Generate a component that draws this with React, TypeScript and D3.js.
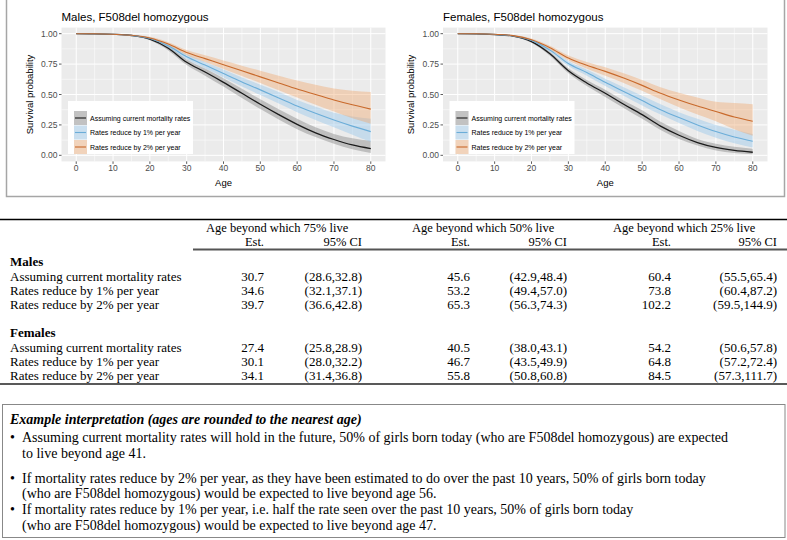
import React from "react";
import * as d3 from "d3";

// ---------- DATA ----------
const ages = [0, 5, 10, 15, 20, 25, 30, 35, 40, 45, 50, 55, 60, 65, 70, 75, 80];

const maleCurrentEst = [1, 0.999, 0.995, 0.985, 0.955, 0.88, 0.765, 0.685, 0.6, 0.51, 0.42, 0.335, 0.255, 0.185, 0.13, 0.085, 0.055];
const maleCurrentLo = [1, 0.998, 0.993, 0.98, 0.945, 0.862, 0.742, 0.655, 0.565, 0.472, 0.38, 0.295, 0.215, 0.15, 0.095, 0.05, 0.02];
const maleCurrentHi = [1, 1, 0.997, 0.99, 0.965, 0.897, 0.788, 0.713, 0.633, 0.547, 0.46, 0.378, 0.3, 0.23, 0.175, 0.14, 0.12];

const male1Est = [1, 0.999, 0.995, 0.986, 0.96, 0.9, 0.81, 0.742, 0.672, 0.603, 0.538, 0.472, 0.405, 0.345, 0.29, 0.24, 0.195];
const male1Lo = [1, 0.998, 0.993, 0.982, 0.95, 0.885, 0.79, 0.715, 0.64, 0.565, 0.495, 0.425, 0.355, 0.29, 0.23, 0.17, 0.11];
const male1Hi = [1, 1, 0.997, 0.99, 0.97, 0.915, 0.83, 0.768, 0.705, 0.64, 0.58, 0.52, 0.455, 0.4, 0.35, 0.32, 0.3];

const male2Est = [1, 0.999, 0.995, 0.987, 0.965, 0.915, 0.845, 0.795, 0.745, 0.695, 0.645, 0.595, 0.545, 0.5, 0.455, 0.415, 0.38];
const male2Lo = [1, 0.998, 0.993, 0.983, 0.955, 0.9, 0.825, 0.767, 0.71, 0.652, 0.595, 0.535, 0.475, 0.415, 0.36, 0.305, 0.26];
const male2Hi = [1, 1, 0.997, 0.991, 0.975, 0.93, 0.865, 0.822, 0.78, 0.737, 0.695, 0.655, 0.615, 0.58, 0.55, 0.53, 0.52];

const femaleCurrentEst = [1, 0.999, 0.993, 0.98, 0.935, 0.835, 0.695, 0.595, 0.51, 0.42, 0.335, 0.24, 0.165, 0.105, 0.065, 0.04, 0.025];
const femaleCurrentLo = [1, 0.998, 0.99, 0.975, 0.925, 0.818, 0.675, 0.57, 0.48, 0.39, 0.3, 0.208, 0.135, 0.08, 0.04, 0.02, 0.008];
const femaleCurrentHi = [1, 1, 0.996, 0.985, 0.945, 0.852, 0.715, 0.62, 0.54, 0.45, 0.37, 0.275, 0.2, 0.135, 0.095, 0.07, 0.055];

const female1Est = [1, 0.999, 0.994, 0.982, 0.945, 0.865, 0.755, 0.68, 0.6, 0.525, 0.45, 0.375, 0.31, 0.25, 0.195, 0.15, 0.115];
const female1Lo = [1, 0.998, 0.991, 0.977, 0.935, 0.85, 0.735, 0.655, 0.57, 0.49, 0.41, 0.335, 0.265, 0.2, 0.145, 0.1, 0.065];
const female1Hi = [1, 1, 0.997, 0.987, 0.955, 0.88, 0.775, 0.705, 0.63, 0.56, 0.49, 0.42, 0.355, 0.3, 0.25, 0.21, 0.175];

const female2Est = [1, 0.999, 0.995, 0.984, 0.95, 0.885, 0.8, 0.74, 0.69, 0.635, 0.575, 0.51, 0.455, 0.405, 0.36, 0.315, 0.28];
const female2Lo = [1, 0.998, 0.992, 0.979, 0.94, 0.87, 0.78, 0.712, 0.655, 0.595, 0.53, 0.46, 0.395, 0.335, 0.28, 0.215, 0.16];
const female2Hi = [1, 1, 0.997, 0.989, 0.96, 0.9, 0.82, 0.768, 0.725, 0.675, 0.62, 0.56, 0.515, 0.475, 0.44, 0.43, 0.42];

const seriesLabels = ["Assuming current mortality rates", "Rates reduce by 1% per year", "Rates reduce by 2% per year"];
const lineColors = ["#1a1a1a", "#6badd8", "#c8692b"];
const ribbonColors = ["#7a7a7a", "#8ec3ea", "#f0a46a"];

const panelTitles = ["Males, F508del homozygous", "Females, F508del homozygous"];
const xTicks = [0, 10, 20, 30, 40, 50, 60, 70, 80];
const xMinor = [5, 15, 25, 35, 45, 55, 65, 75];
const yTicks = [0, 0.25, 0.5, 0.75, 1];
const yTickLabels = ["0.00", "0.25", "0.50", "0.75", "1.00"];
const yMinor = [0.125, 0.375, 0.625, 0.875];

const colHeaders = ["Age beyond which 75% live", "Age beyond which 50% live", "Age beyond which 25% live"];
const groupNames = ["Males", "Females"];
const maleEst = [["30.7", "45.6", "60.4"], ["34.6", "53.2", "73.8"], ["39.7", "65.3", "102.2"]];
const maleCI = [["(28.6,32.8)", "(42.9,48.4)", "(55.5,65.4)"], ["(32.1,37.1)", "(49.4,57.0)", "(60.4,87.2)"], ["(36.6,42.8)", "(56.3,74.3)", "(59.5,144.9)"]];
const femaleEst = [["27.4", "40.5", "54.2"], ["30.1", "46.7", "64.8"], ["34.1", "55.8", "84.5"]];
const femaleCI = [["(25.8,28.9)", "(38.0,43.1)", "(50.6,57.8)"], ["(28.0,32.2)", "(43.5,49.9)", "(57.2,72.4)"], ["(31.4,36.8)", "(50.8,60.8)", "(57.3,111.7)"]];

const noteTitle = "Example interpretation (ages are rounded to the nearest age)";
const noteBullets = [
  ["Assuming current mortality rates will hold in the future, 50% of girls born today (who are F508del homozygous) are expected", "to live beyond age 41."],
  ["If mortality rates reduce by 2% per year, as they have been estimated to do over the past 10 years, 50% of girls born today", "(who are F508del homozygous) would be expected to live beyond age 56."],
  ["If mortality rates reduce by 1% per year, i.e. half the rate seen over the past 10 years, 50% of girls born today", "(who are F508del homozygous) would be expected to live beyond age 47."],
];

// ---------- CHART ----------
const SANS = "'Liberation Sans', Arial, sans-serif";
const SERIF = "'Liberation Serif', 'Times New Roman', serif";

type Series = { est: number[]; lo: number[]; hi: number[] };

function Panel({ left, right, title, series }: { left: number; right: number; title: string; series: Series[] }) {
  const top = 27.6;
  const bottom = 161.4;
  const x = d3.scaleLinear().domain([-4, 84]).range([left, right]);
  const y = d3.scaleLinear().domain([-0.05, 1.05]).range([bottom, top]);
  const line = d3
    .line<number>()
    .x((_, i) => x(ages[i]))
    .y((d) => y(d))
    .curve(d3.curveMonotoneX);
  const area = (s: Series) =>
    d3
      .area<number>()
      .x((_, i) => x(ages[i]))
      .y0((_, i) => y(s.lo[i]))
      .y1((_, i) => y(s.hi[i]))
      .curve(d3.curveMonotoneX)(ages) as string;
  const legX = left + 6.5;
  const legY = 101;
  const rowH = 14.5;
  return (
    <g>
      <text x={left} y={21} fontFamily={SANS} fontSize={11.5} fill="#000">{title}</text>
      <rect x={left} y={top} width={right - left} height={bottom - top} fill="#ebebeb" />
      {xMinor.map((t) => (
        <line key={"xm" + t} x1={x(t)} x2={x(t)} y1={top} y2={bottom} stroke="#fff" strokeWidth={0.5} />
      ))}
      {yMinor.map((t) => (
        <line key={"ym" + t} x1={left} x2={right} y1={y(t)} y2={y(t)} stroke="#fff" strokeWidth={0.5} />
      ))}
      {xTicks.map((t) => (
        <line key={"xg" + t} x1={x(t)} x2={x(t)} y1={top} y2={bottom} stroke="#fff" strokeWidth={1} />
      ))}
      {yTicks.map((t) => (
        <line key={"yg" + t} x1={left} x2={right} y1={y(t)} y2={y(t)} stroke="#fff" strokeWidth={1} />
      ))}
      {series.map((s, i) => (
        <path key={"r" + i} d={area(s)} fill={ribbonColors[i]} fillOpacity={0.4} stroke="none" />
      ))}
      {series.map((s, i) => (
        <path key={"l" + i} d={line(s.est) as string} fill="none" stroke={lineColors[i]} strokeWidth={i === 0 ? 1.3 : 1.1} />
      ))}
      {xTicks.map((t) => (
        <g key={"xt" + t}>
          <line x1={x(t)} x2={x(t)} y1={bottom} y2={bottom + 2.5} stroke="#333" strokeWidth={0.8} />
          <text x={x(t)} y={171} textAnchor="middle" fontFamily={SANS} fontSize={8.5} fill="#4d4d4d">{t}</text>
        </g>
      ))}
      {yTicks.map((t, i) => (
        <g key={"yt" + t}>
          <line x1={left - 2.5} x2={left} y1={y(t)} y2={y(t)} stroke="#333" strokeWidth={0.8} />
          <text x={left - 4} y={y(t) + 3} textAnchor="end" fontFamily={SANS} fontSize={8.5} fill="#4d4d4d">{yTickLabels[i]}</text>
        </g>
      ))}
      <text x={(left + right) / 2} y={185.5} textAnchor="middle" fontFamily={SANS} fontSize={9.5} fill="#000">Age</text>
      <text
        transform={`translate(${left - 29},${(top + bottom) / 2}) rotate(-90)`}
        textAnchor="middle"
        fontFamily={SANS}
        fontSize={9.5}
        fill="#000"
      >
        Survival probability
      </text>
      <rect x={legX} y={legY} width={125} height={53} fill="#fff" />
      {seriesLabels.map((lab, i) => {
        const cy = legY + 17 + i * rowH;
        return (
          <g key={"lg" + i}>
            <rect x={legX + 6} y={cy - 7} width={13} height={14} fill="#f2f2f2" />
            <rect x={legX + 6} y={cy - 7} width={13} height={14} fill={ribbonColors[i]} fillOpacity={0.4} />
            <line x1={legX + 7} x2={legX + 18} y1={cy} y2={cy} stroke={lineColors[i]} strokeWidth={1.1} />
            <text x={legX + 22} y={cy + 2.5} fontFamily={SANS} fontSize={7} fill="#000">{lab}</text>
          </g>
        );
      })}
    </g>
  );
}

function Table() {
  const estRight = [264, 470, 671];
  const ciRight = [362, 567, 777];
  const hdrStart = [206, 412, 613];
  const groups = [
    { name: groupNames[0], est: maleEst, ci: maleCI, y0: 266 },
    { name: groupNames[1], est: femaleEst, ci: femaleCI, y0: 337 },
  ];
  return (
    <g fontFamily={SERIF} fontSize={13} fill="#000">
      <line x1={0} x2={787} y1={219.5} y2={219.5} stroke="#000" strokeWidth={1.3} />
      {colHeaders.map((h, j) => (
        <g key={"h" + j}>
          <text x={hdrStart[j]} y={231.5} fontSize={12.5}>{h}</text>
          <text x={estRight[j]} y={246} fontSize={12.5} textAnchor="end">Est.</text>
          <text x={ciRight[j]} y={246} fontSize={12.5} textAnchor="end">95% CI</text>
        </g>
      ))}
      <line x1={193} x2={787} y1={249.5} y2={249.5} stroke="#555" strokeWidth={2} />
      {groups.map((g) => (
        <g key={g.name}>
          <text x={10} y={g.y0} fontWeight="bold">{g.name}</text>
          {seriesLabels.map((lab, i) => (
            <g key={lab}>
              <text x={10} y={g.y0 + 14.5 + i * 14.2}>{lab}</text>
              {g.est[i].map((v, j) => (
                <text key={"e" + j} x={estRight[j]} y={g.y0 + 14.5 + i * 14.2} textAnchor="end">{v}</text>
              ))}
              {g.ci[i].map((v, j) => (
                <text key={"c" + j} x={ciRight[j]} y={g.y0 + 14.5 + i * 14.2} textAnchor="end">{v}</text>
              ))}
            </g>
          ))}
        </g>
      ))}
      <line x1={0} x2={787} y1={384} y2={384} stroke="#222" strokeWidth={1.5} />
    </g>
  );
}

function Note() {
  const lineYs = [[442, 458], [482.5, 498], [514, 529.5]];
  return (
    <g fontFamily={SERIF} fontSize={14} fill="#000">
      <rect x={2.5} y={404.5} width={782.5} height={133} fill="none" stroke="#888" strokeWidth={1} />
      <text x={10} y={424} fontWeight="bold" fontStyle="italic">{noteTitle}</text>
      {noteBullets.map((b, i) => (
        <g key={"b" + i}>
          <text x={10} y={lineYs[i][0]}>•</text>
          <text x={22} y={lineYs[i][0]}>{b[0]}</text>
          <text x={22} y={lineYs[i][1]}>{b[1]}</text>
        </g>
      ))}
    </g>
  );
}

export default function App() {
  const males: Series[] = [
    { est: maleCurrentEst, lo: maleCurrentLo, hi: maleCurrentHi },
    { est: male1Est, lo: male1Lo, hi: male1Hi },
    { est: male2Est, lo: male2Lo, hi: male2Hi },
  ];
  const females: Series[] = [
    { est: femaleCurrentEst, lo: femaleCurrentLo, hi: femaleCurrentHi },
    { est: female1Est, lo: female1Lo, hi: female1Hi },
    { est: female2Est, lo: female2Lo, hi: female2Hi },
  ];
  return (
    <svg width={787} height={540} style={{ position: "absolute", left: 0, top: 0, background: "#fff" }}>
      <rect x={0} y={0} width={787} height={540} fill="#fff" />
      <path d="M6.5,0 V196.5 H784.5 V0" fill="none" stroke="#a6a6a6" strokeWidth={1.5} />
      <Panel left={61.5} right={385.5} title={panelTitles[0]} series={males} />
      <Panel left={443} right={767.5} title={panelTitles[1]} series={females} />
      <Table />
      <Note />
    </svg>
  );
}
